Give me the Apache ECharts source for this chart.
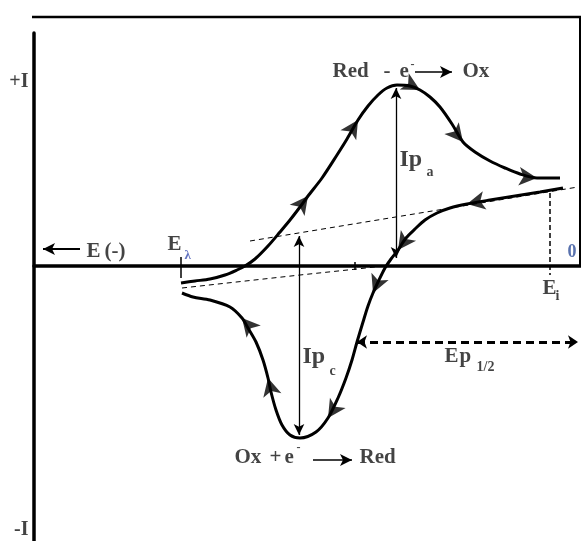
<!DOCTYPE html>
<html>
<head>
<meta charset="utf-8">
<script src="https://cdn.jsdelivr.net/npm/echarts@6/dist/echarts.min.js"></script>
<style>
  html, body { margin: 0; padding: 0; background: #fff; }
  #chart { width: 581px; height: 541px; }
</style>
</head>
<body>
<div id="chart"></div>
<script>
// potential E (arbitrary units, 0 at the right end), current I (arbitrary units)
const anodicScan = [
  [-391, -17], [-377, -15], [-362, -13], [-347, -9], [-335, -4], [-327, 0], [-317, 7],
  [-304, 20], [-292, 34], [-282, 46], [-272, 59], [-264, 70], [-250, 88], [-235, 111],
  [-225, 127], [-214, 146], [-204, 160], [-194, 171], [-185, 178], [-175, 181], [-162, 180],
  [-152, 176], [-142, 169], [-132, 159], [-120, 142], [-109, 124], [-97, 114], [-82, 105],
  [-67, 98], [-52, 92], [-35, 88], [-12, 88]
]
const cathodicScan = [
  [-9, 78], [-32, 74], [-57, 70], [-82, 66], [-105, 62], [-122, 58], [-135, 53], [-147, 46],
  [-157, 37], [-166, 28], [-174, 16], [-181, 7], [-187, -2], [-193, -14], [-199, -27],
  [-204, -40], [-209, -56], [-215, -76], [-220, -94], [-226, -112], [-234, -132],
  [-244, -152], [-256, -166], [-272, -172], [-282, -169], [-290, -159], [-296, -144],
  [-301, -126], [-304, -112], [-309, -94], [-316, -76], [-324, -62], [-330, -52],
  [-342, -41], [-362, -34], [-379, -31], [-390, -27]
]
// where the direction arrows sit (index into the scan)
const anodicArrows = [11, 15, 21, 25, 30]
const cathodicArrows = [4, 10, 14, 21, 28, 32]

const anodicBaseline = [[-322, 25], [6, 79]]
const cathodicBaseline = [[-390, -22], [-272, -9], [-215, -3], [-189, 0]]
const ipa = [[-176, 8], [-176, 178]]
const ipc = [[-273, 30], [-273, -169]]
const ep12 = [[-215, -76], [6, -76]]
const eiLine = [[-22, 73], [-22, -9]]
const eLambdaTick = [[-391, 9], [-391, -12]]
const midTick = [[-217, 4], [-217, -4]]
const eMinusArrow = [[-492, 17], [-529, 17]]
const oxArrow = [[-157, 194], [-120, 194]]
const redArrow = [[-259, -194], [-220, -194]]

// [text, E, I, kind]
const notes = [
  ['+I', -543, 184, 'end'],
  ['-I', -543, -264, 'end'],
  ['E', -485, 14, 'main'],
  ['(-)', -467, 14, 'main'],
  ['E', -404, 21, 'main'],
  ['λ', -387, 10, 'subBlue'],
  ['0', -4, 13, 'blue'],
  ['E', -29, -23, 'main'],
  ['i', -16, -31, 'sub'],
  ['Red', -239, 194, 'main'],
  ['-', -188, 194, 'main'],
  ['e', -172, 194, 'main'],
  ['-', -161, 201, 'sup'],
  ['Ox', -109, 194, 'main'],
  ['Ip', -172, 106, 'big'],
  ['a', -145, 93, 'sub'],
  ['Ip', -269, -91, 'big'],
  ['c', -242, -106, 'sub'],
  ['E', -127, -91, 'main'],
  ['p', -112, -91, 'main'],
  ['1/2', -95, -102, 'sub'],
  ['Ox', -337, -192, 'main'],
  ['+', -302, -192, 'main'],
  ['e', -287, -192, 'main'],
  ['-', -275, -182, 'sup'],
  ['Red', -212, -192, 'main']
]

const serif = "'Liberation Serif', 'Times New Roman', serif"
const noteStyles = {
  main : { fontSize : 21, align : 'left', color : '#141414' },
  big : { fontSize : 24, align : 'left', color : '#141414' },
  end : { fontSize : 20, align : 'right', color : '#141414' },
  sub : { fontSize : 14, align : 'left', color : '#141414' },
  sup : { fontSize : 12, align : 'left', color : '#141414' },
  subBlue : { fontSize : 13, align : 'left', color : '#3a4fb0' },
  blue : { fontSize : 18, align : 'left', color : '#2f4f9a' }
}

const arrowItems = ( scan, idx ) => idx.map( i => {
  const a = scan[i - 1]
  const b = scan[i + 1]
  const ang = Math.atan2( b[1] - a[1], b[0] - a[0] ) * 180 / Math.PI
  return { value : scan[i], symbolRotate : ang - 90 }
} )

const segment = ( pts, style ) => ( {
  type : 'line',
  data : pts,
  symbol : 'none',
  clip : false,
  silent : true,
  lineStyle : Object.assign( { color : '#000', width : 1 }, style )
} )

const arrowLine = ( pts, symbols, size, style ) => ( {
  type : 'line',
  data : [],
  markLine : {
    silent : true,
    symbol : symbols,
    symbolSize : size,
    label : { show : false },
    lineStyle : Object.assign( { color : '#000', width : 1.2, type : 'solid' }, style ),
    data : [[{ coord : pts[0] }, { coord : pts[1] }]]
  }
} )

const chart = echarts.init( document.getElementById( 'chart' ) )

chart.setOption( {
  animation : false,
  backgroundColor : '#fff',
  grid : { left : 34, right : 0, top : 33, bottom : 0 },
  xAxis : {
    type : 'value',
    min : -538,
    max : 9,
    axisLine : { show : true, onZero : true, lineStyle : { color : '#000', width : 3.5 } },
    axisTick : { show : false },
    axisLabel : { show : false },
    splitLine : { show : false }
  },
  yAxis : {
    type : 'value',
    min : -275,
    max : 233,
    axisLine : { show : true, onZero : false, lineStyle : { color : '#000', width : 3.5 } },
    axisTick : { show : false },
    axisLabel : { show : false },
    splitLine : { show : false }
  },
  graphic : [
    { type : 'line', shape : { x1 : 32, y1 : 17, x2 : 581, y2 : 17 }, style : { stroke : '#000', lineWidth : 2.5 } },
    { type : 'line', shape : { x1 : 580, y1 : 17, x2 : 580, y2 : 266 }, style : { stroke : '#000', lineWidth : 2 } }
  ],
  series : [
    segment( anodicBaseline, { type : [5, 4], width : 1 } ),
    segment( cathodicBaseline, { type : [5, 4], width : 1 } ),
    segment( eiLine, { type : [5, 3], width : 1.5 } ),
    segment( eLambdaTick, { width : 1.5 } ),
    segment( midTick, { width : 1.5 } ),
    {
      type : 'line',
      data : anodicScan,
      symbol : 'none',
      smooth : 0.3,
      silent : true,
      lineStyle : { color : '#000', width : 3 }
    },
    {
      type : 'line',
      data : cathodicScan,
      symbol : 'none',
      smooth : 0.3,
      silent : true,
      lineStyle : { color : '#000', width : 3 }
    },
    {
      type : 'scatter',
      symbol : 'arrow',
      symbolSize : [14, 18],
      silent : true,
      itemStyle : { color : '#000' },
      data : arrowItems( anodicScan, anodicArrows ).concat( arrowItems( cathodicScan, cathodicArrows ) )
    },
    arrowLine( ipa, ['arrow', 'arrow'], [8, 11], { width : 1.3 } ),
    arrowLine( ipc, ['arrow', 'arrow'], [8, 11], { width : 1.3 } ),
    arrowLine( ep12, ['arrow', 'arrow'], [10, 10], { width : 3, type : [8, 5] } ),
    arrowLine( eMinusArrow, ['none', 'arrow'], [9, 12], { width : 2 } ),
    arrowLine( oxArrow, ['none', 'arrow'], [9, 12], { width : 1.5 } ),
    arrowLine( redArrow, ['none', 'arrow'], [9, 12], { width : 1.5 } ),
    {
      type : 'scatter',
      symbolSize : 1,
      clip : false,
      silent : true,
      itemStyle : { color : 'transparent' },
      label : {
        show : true,
        position : [0, 0],
        verticalAlign : 'middle',
        fontFamily : serif,
        fontWeight : 'bold'
      },
      data : notes.map( n => ( {
        value : [n[1], n[2]],
        label : Object.assign( { formatter : n[0] }, noteStyles[n[3]] )
      } ) )
    }
  ]
} )
</script>
</body>
</html>
